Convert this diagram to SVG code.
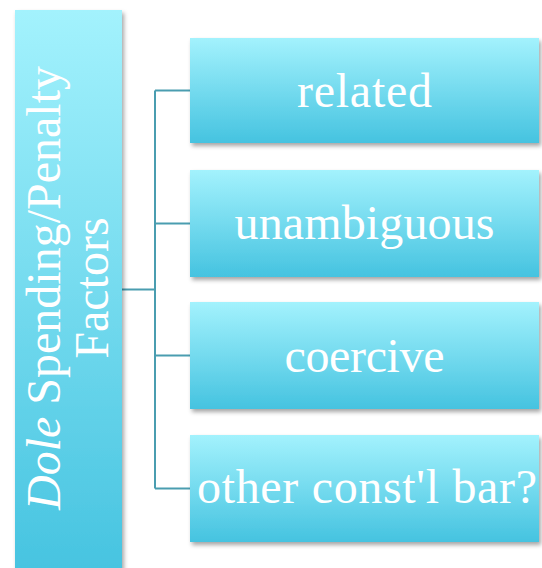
<svg xmlns="http://www.w3.org/2000/svg" width="542" height="568" viewBox="0 0 542 568">
<defs>
<linearGradient id="g" x1="0" y1="0" x2="0" y2="1">
<stop offset="0" stop-color="#a3f2fd"/>
<stop offset="1" stop-color="#45c3e0"/>
</linearGradient>
<filter id="sh" x="-10%" y="-10%" width="125%" height="130%">
<feDropShadow dx="2" dy="3" stdDeviation="2.2" flood-color="#000" flood-opacity="0.35"/>
</filter>
<style>
.box{fill:url(#g);filter:url(#sh);}
.t{font-family:"Liberation Serif","Times New Roman",serif;font-size:48px;fill:#ffffff;text-anchor:middle;}
.c{stroke:#4a9db0;stroke-width:2;fill:none;}
</style>
</defs>
<g id="connectors">
<path class="c" d="M122,289.5 H155 M155,90.5 V488.5 M155,90.5 H190 M155,223.5 H190 M155,355.5 H190 M155,488.5 H190"/>
</g>
<g id="root">
<rect class="box" x="15" y="10" width="107" height="570"/>
<text class="t" transform="translate(60,288) rotate(-90)"><tspan x="0" y="0"><tspan font-style="italic">Dole</tspan> Spending/Penalty</tspan><tspan x="0" y="48">Factors</tspan></text>
</g>
<g id="n1">
<rect class="box" x="190" y="38" width="349" height="105"/>
<text class="t" x="364.5" y="107" textLength="135">related</text>
</g>
<g id="n2">
<rect class="box" x="190" y="170" width="349" height="107"/>
<text class="t" x="364.5" y="239" textLength="260">unambiguous</text>
</g>
<g id="n3">
<rect class="box" x="190" y="302" width="349" height="107"/>
<text class="t" x="364.5" y="372" textLength="160">coercive</text>
</g>
<g id="n4">
<rect class="box" x="190" y="435" width="349" height="107"/>
<text class="t" x="367" y="503" textLength="340">other const'l bar?</text>
</g>
</svg>
